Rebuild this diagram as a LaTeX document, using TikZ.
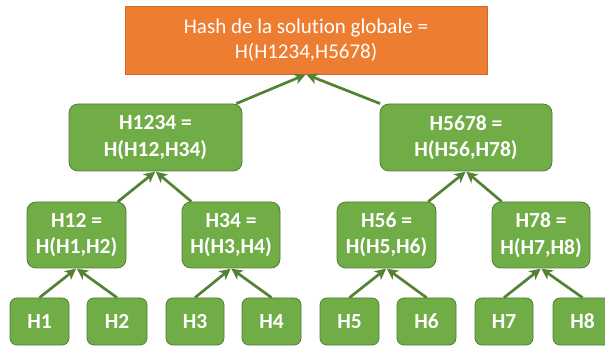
\documentclass[tikz,border=0pt]{standalone}
\usepackage{fontspec}
\setmainfont[Ligatures=NoCommon]{Carlito}
\usetikzlibrary{arrows.meta}
\definecolor{hashorange}{HTML}{ED7D31}
\definecolor{hashorangeline}{HTML}{D0692A}
\definecolor{hashgreen}{HTML}{70AD47}
\definecolor{hashgreenline}{HTML}{507E32}
\definecolor{arrowgreen}{HTML}{548235}
\tikzset{
  rootbox/.style={draw=hashorangeline, line width=0.8pt, fill=hashorange, text=white, align=center,
    font=\fontsize{21}{25.5}\selectfont, inner sep=0pt},
  gbox/.style={draw=hashgreenline, line width=0.8pt, fill=hashgreen, text=white, align=center,
    rounded corners=9pt, font=\fontsize{21.5}{26.5}\selectfont\bfseries, inner sep=0pt},
  leafbox/.style={gbox, rounded corners=7pt},
  conn/.style={draw=arrowgreen, line width=2.7pt, -{Stealth[length=11pt,width=11pt,inset=3pt]}, shorten >=0.5pt},
}
\begin{document}
\begin{tikzpicture}[x=1pt,y=-1pt]
\useasboundingbox (0,0) rectangle (605,347);
% root
\node[rootbox, minimum width=362pt, minimum height=68pt] (root) at (306,40)
  {Hash de la solution globale =\\ H(H1234,H5678)};
% level 1
\node[gbox, minimum width=173pt, minimum height=67pt] (h1234) at (155.5,137.5) {H1234 =\\ H(H12,H34)};
\node[gbox, minimum width=172pt, minimum height=67pt] (h5678) at (466,137.5) {H5678 =\\ H(H56,H78)};
% level 2
\node[gbox, minimum width=99pt, minimum height=66pt] (h12) at (76.5,235) {H12 =\\ H(H1,H2)};
\node[gbox, minimum width=98pt, minimum height=66pt] (h34) at (231,235) {H34 =\\ H(H3,H4)};
\node[gbox, minimum width=99pt, minimum height=66pt] (h56) at (386.5,235) {H56 =\\ H(H5,H6)};
\node[gbox, minimum width=98pt, minimum height=66pt] (h78) at (541,235) {H78 =\\ H(H7,H8)};
% leaves
\node[leafbox, minimum width=59pt, minimum height=47pt] (h1) at (39.5,321.5) {H1};
\node[leafbox, minimum width=60pt, minimum height=47pt] (h2) at (117,321.5) {H2};
\node[leafbox, minimum width=58pt, minimum height=47pt] (h3) at (195,321.5) {H3};
\node[leafbox, minimum width=59pt, minimum height=47pt] (h4) at (271.5,321.5) {H4};
\node[leafbox, minimum width=59pt, minimum height=47pt] (h5) at (349.5,321.5) {H5};
\node[leafbox, minimum width=59pt, minimum height=47pt] (h6) at (426.5,321.5) {H6};
\node[leafbox, minimum width=58pt, minimum height=47pt] (h7) at (504,321.5) {H7};
\node[leafbox, minimum width=59pt, minimum height=47pt] (h8) at (582.5,321.5) {H8};
% connectors
\draw[conn] (h1234) -- (root.south);
\draw[conn] (h5678) -- (root.south);
\draw[conn] (h12) -- (h1234.south);
\draw[conn] (h34) -- (h1234.south);
\draw[conn] (h56) -- (h5678.south);
\draw[conn] (h78) -- (h5678.south);
\draw[conn] (h1.north) -- (h12.south);
\draw[conn] (h2.north) -- (h12.south);
\draw[conn] (h3.north) -- (h34.south);
\draw[conn] (h4.north) -- (h34.south);
\draw[conn] (h5.north) -- (h56.south);
\draw[conn] (h6.north) -- (h56.south);
\draw[conn] (h7.north) -- (h78.south);
\draw[conn] (h8.north) -- (h78.south);
\end{tikzpicture}
\end{document}
